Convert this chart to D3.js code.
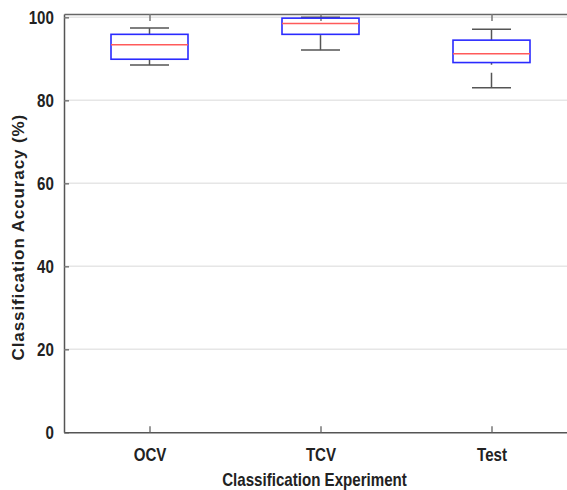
<!DOCTYPE html>
<html>
<head>
<meta charset="utf-8">
<script src="https://cdn.jsdelivr.net/npm/d3@7"></script>
<style>
  body { margin: 0; background: #fff; overflow: hidden; }
</style>
</head>
<body>
<div id="chart"></div>
<script>
// box plot of classification accuracy per experiment

var categories = ['OCV', 'TCV', 'Test'];
var whiskerLow = [88.5, 92.1, 83.0];
var q1 = [89.9, 95.9, 89.1];
var median = [93.4, 98.5, 91.2];
var q3 = [95.9, 99.8, 94.5];
var whiskerHigh = [97.4, 100, 97.1];
var yTicks = [0, 20, 40, 60, 80, 100];

var W = 567, H = 490;
var mLeft = 64, mTop = 14, mBottom = 432.3;
var narrow = 'scale(0.84,1)';
var font = '"Liberation Sans", Arial, sans-serif';

var data = categories.map(function(c, i) {
	return { name: c, pos: i + 1, lo: whiskerLow[i], q1: q1[i], med: median[i], q3: q3[i], hi: whiskerHigh[i] };
});

var x = d3.scaleLinear().domain([0.5, 3.5]).range([mLeft, mLeft + 3 * 171]);
var y = d3.scaleLinear().domain([0, 100.8]).range([mBottom, mTop]);

var boxW = 77, capW = 39;

var svg = d3.select('#chart').append('svg')
	.attr('width', W)
	.attr('height', H);

// grid
svg.append('g').selectAll('line')
		.data(yTicks.filter(function(d) { return d > 0; }))
	.enter().append('line')
		.attr('x1', mLeft).attr('x2', W)
		.attr('y1', function(d) { return y(d); })
		.attr('y2', function(d) { return y(d); })
		.attr('stroke', '#e6e6e6')
		.attr('stroke-width', 1.5);

// y axis
var yAxis = svg.append('g')
	.attr('transform', 'translate(' + mLeft + ',0)')
	.call(d3.axisLeft(y).tickValues(yTicks).tickSizeInner(-5).tickSizeOuter(0).tickPadding(12));
yAxis.select('.domain').attr('stroke', '#555').attr('stroke-width', 1.5);
yAxis.selectAll('.tick line').attr('stroke', '#777').attr('stroke-width', 1.5);
yAxis.selectAll('.tick text')
	.attr('fill', '#222')
	.attr('transform', narrow)
	.style('font-family', font)
	.style('font-size', '18px')
	.style('font-weight', 'bold');

// x axis
var xAxis = svg.append('g')
	.attr('transform', 'translate(0,' + mBottom + ')')
	.call(d3.axisBottom(x).tickValues([1, 2, 3]).tickFormat(function(d) { return categories[d - 1]; })
		.tickSizeInner(-6).tickSizeOuter(0).tickPadding(16));
xAxis.select('.domain').attr('stroke', '#555').attr('stroke-width', 1.5);
xAxis.selectAll('.tick line').attr('stroke', '#777').attr('stroke-width', 1.5);
xAxis.selectAll('.tick text')
	.attr('fill', '#222')
	.attr('transform', narrow)
	.style('font-family', font)
	.style('font-size', '18px')
	.style('font-weight', 'bold');

// top border with ticks
var topAxis = svg.append('g')
	.attr('transform', 'translate(0,' + mTop + ')')
	.call(d3.axisTop(x).tickValues([1, 2, 3]).tickFormat('').tickSizeInner(-7).tickSizeOuter(0));
topAxis.select('.domain').attr('stroke', '#666').attr('stroke-width', 1.5);
topAxis.selectAll('.tick line').attr('stroke', '#777').attr('stroke-width', 1.5);

// boxes
var g = svg.selectAll('g.box')
		.data(data)
	.enter().append('g')
		.attr('class', 'box');

// whiskers drawn from outer end toward the box
g.append('line')
	.attr('x1', function(d) { return x(d.pos); })
	.attr('x2', function(d) { return x(d.pos); })
	.attr('y1', function(d) { return y(d.hi); })
	.attr('y2', function(d) { return y(d.q3); })
	.attr('stroke', '#555').attr('stroke-width', 1.5)
	.attr('stroke-dasharray', '15,8');
g.append('line')
	.attr('x1', function(d) { return x(d.pos); })
	.attr('x2', function(d) { return x(d.pos); })
	.attr('y1', function(d) { return y(d.lo); })
	.attr('y2', function(d) { return y(d.q1); })
	.attr('stroke', '#555').attr('stroke-width', 1.5)
	.attr('stroke-dasharray', '15,8');

// caps
['hi', 'lo'].forEach(function(k) {
	g.append('line')
		.attr('x1', function(d) { return x(d.pos) - capW / 2; })
		.attr('x2', function(d) { return x(d.pos) + capW / 2; })
		.attr('y1', function(d) { return y(d[k]); })
		.attr('y2', function(d) { return y(d[k]); })
		.attr('stroke', '#555').attr('stroke-width', 1.5);
});

g.append('rect')
	.attr('x', function(d) { return x(d.pos) - boxW / 2; })
	.attr('y', function(d) { return y(d.q3); })
	.attr('width', boxW)
	.attr('height', function(d) { return y(d.q1) - y(d.q3); })
	.attr('fill', 'none')
	.attr('stroke', '#2a2aff')
	.attr('stroke-width', 1.6);

g.append('line')
	.attr('x1', function(d) { return x(d.pos) - boxW / 2; })
	.attr('x2', function(d) { return x(d.pos) + boxW / 2; })
	.attr('y1', function(d) { return y(d.med); })
	.attr('y2', function(d) { return y(d.med); })
	.attr('stroke', '#ff5a5a')
	.attr('stroke-width', 1.5);

// axis titles
svg.append('text')
	.attr('transform', 'translate(24,' + ((mTop + mBottom) / 2 + 14) + ') rotate(-90)')
	.attr('text-anchor', 'middle')
	.attr('fill', '#222')
	.style('font-family', font)
	.style('font-size', '17px')
	.style('font-weight', 'bold')
	.style('letter-spacing', '0.9px')
	.text('Classification Accuracy (%)');

svg.append('text')
	.attr('transform', 'translate(' + (x(2) - 6) + ',486) ' + narrow)
	.attr('text-anchor', 'middle')
	.attr('fill', '#222')
	.style('font-family', font)
	.style('font-size', '18px')
	.style('font-weight', 'bold')
	.text('Classification Experiment');
</script>
</body>
</html>
